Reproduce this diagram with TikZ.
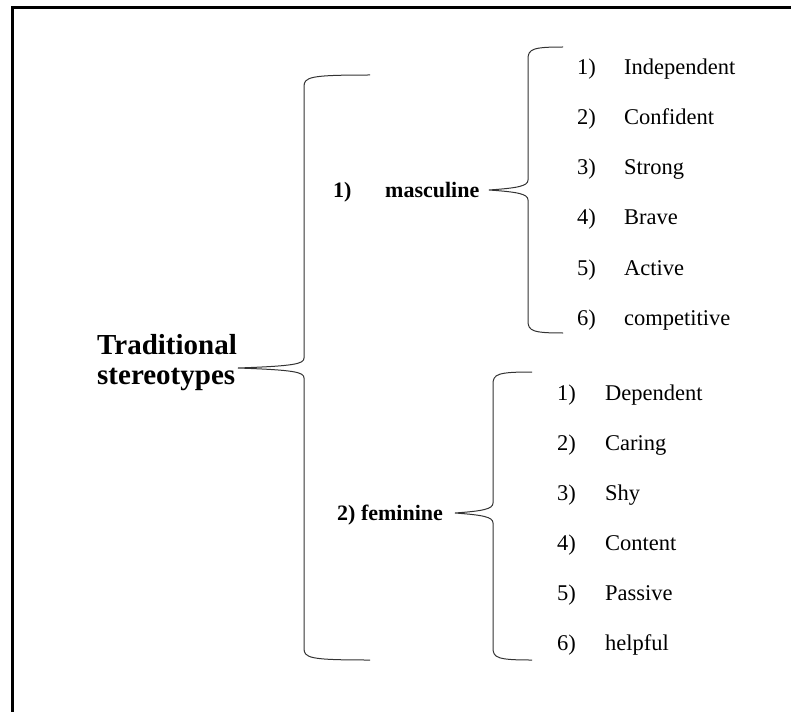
\documentclass[tikz,border=0pt]{standalone}
\usepackage{fontspec}
\setmainfont{Liberation Serif}
\usepackage{tikz}
\usetikzlibrary{positioning}
% left brace with long horizontal ends: tip x, spine x, end x, top y, mid y, bottom y
\newcommand{\wbrace}[6]{%
  \draw[bracket] (#3,#4) .. controls ({#2+5},#4) and (#2,{#4+2}) .. (#2,{#4+12})
    -- (#2,{#5-10}) .. controls (#2,{#5-4}) and ({#2-10},{#5-2}) .. (#1,#5)
    .. controls ({#2-10},{#5+2}) and (#2,{#5+4}) .. (#2,{#5+10})
    -- (#2,{#6-12}) .. controls (#2,{#6-2}) and ({#2+5},#6) .. (#3,#6);}

\begin{document}
\begin{tikzpicture}[
  x=1pt, y=-1pt,
  item/.style={inner sep=0pt, anchor=base west, font=\fontsize{22.5}{27}\selectfont},
  head/.style={inner sep=0pt, anchor=base west, font=\fontsize{22}{26}\selectfont\bfseries},
  title/.style={inner sep=0pt, anchor=west, align=left, font=\fontsize{29}{30}\selectfont\bfseries},
  bracket/.style={line width=1pt, black!80},
  frame/.style={line width=3pt, line cap=rect}
]
\useasboundingbox (0,0) rectangle (791,711);
\draw[frame] (12,711) -- (12,8) -- (791,8);

\node[title] (trad) at (97,363) {Traditional\\stereotypes};
\node[head] (mnum) at (333,197) {1)};
\node[head] (masc) at (385,197) {masculine};
\node[head] (fem) at (337,520) {2) feminine};

% masculine traits
\foreach \i/\w in {1/Independent, 2/Confident, 3/Strong, 4/Brave, 5/Active, 6/competitive} {
  \node[item] (mn\i) at (577,{75+50*(\i-1)}) {\i)};
  \node[item] (mt\i) at (624,{75+50*(\i-1)}) {\w};
}
% feminine traits
\foreach \i/\w in {1/Dependent, 2/Caring, 3/Shy, 4/Content, 5/Passive, 6/helpful} {
  \node[item] (fn\i) at (557,{400+50*(\i-1)}) {\i)};
  \node[item] (ft\i) at (605,{400+50*(\i-1)}) {\w};
}

\wbrace{238}{304}{370}{75}{368}{660}
\wbrace{489}{528}{563}{47}{190}{333}
\wbrace{455}{493}{532}{372}{513}{660}
\end{tikzpicture}
\end{document}
